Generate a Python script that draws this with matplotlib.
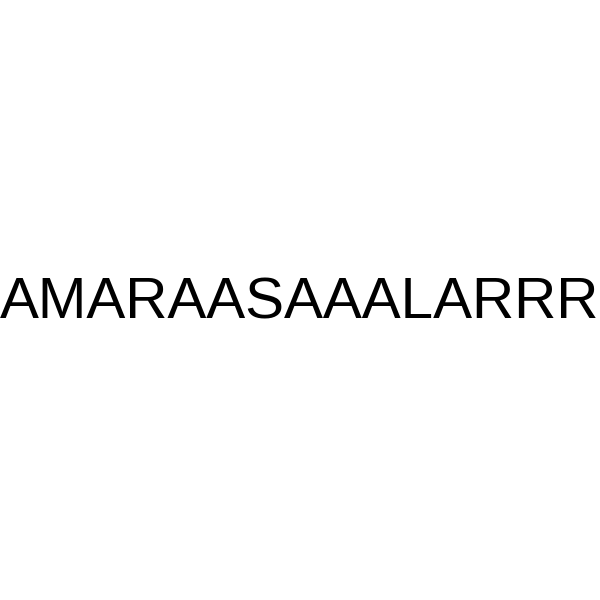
import matplotlib
matplotlib.use("Agg")
import matplotlib.pyplot as plt

# the only content: one peptide sequence label
label = "AMARAASAAALARRR"

fig = plt.figure(figsize=(6, 6), dpi=100)
fig.patch.set_facecolor("white")

fig.text(0.5, 0.504, label, ha="center", va="center_baseline",
         fontsize=42, family="Liberation Sans", color="black")

fig.savefig("out.png", dpi=100, facecolor="white")
